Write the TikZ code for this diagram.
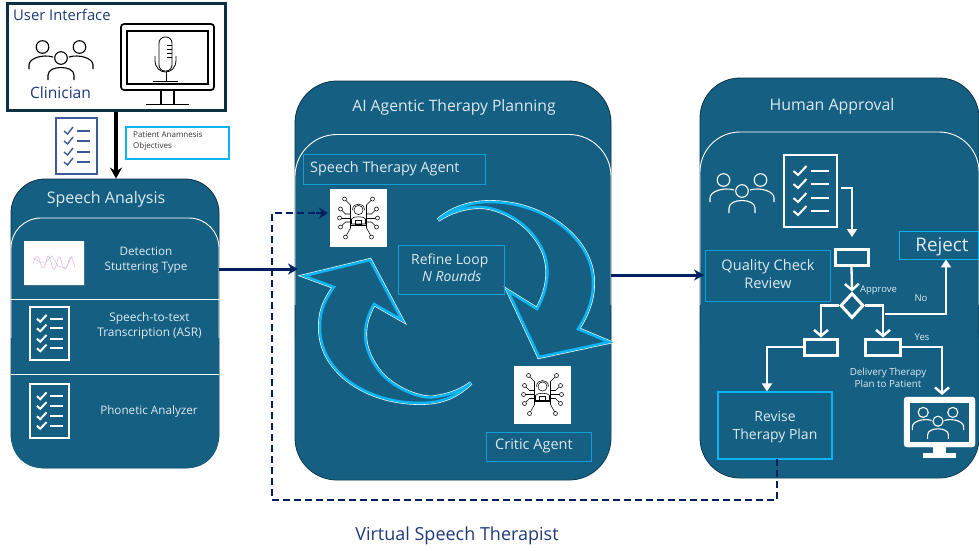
\documentclass[tikz,border=0pt]{standalone}
\usepackage{fontspec}
\setmainfont{Open Sans}
\usetikzlibrary{arrows.meta,calc,shadows,shapes.geometric}
\definecolor{panel}{HTML}{156082}
\definecolor{paneledge}{HTML}{0E2F44}
\definecolor{cyanline}{HTML}{0F9ED5}
\definecolor{brightcyan}{HTML}{0DB4F2}
\definecolor{navy}{HTML}{002060}
\definecolor{uitext}{HTML}{1F3A7A}
\definecolor{txt}{HTML}{DCE9F0}
\definecolor{blueicon}{HTML}{3A5A98}
\newcommand{\fs}[1]{\fontsize{#1}{#1}\selectfont}
\tikzset{
  panelbox/.style={draw=paneledge,line width=.8pt,fill=panel,rounded corners=#1,inner sep=0pt},
  labelbox/.style={draw=cyanline,line width=.9pt,inner sep=0pt,text=txt,align=center},
  flowrect/.style={draw=white,line width=3pt,inner sep=0pt},
  flowline/.style={draw=white,line width=2.3pt},
  tritip/.style={-{Triangle[length=8pt,width=10pt]}},
  barbtip/.style={-{Straight Barb[length=6pt,width=14pt,line width=2.4pt]}},
  navyline/.style={draw=navy,line width=3pt,-{Stealth[length=10pt,width=11pt]}},
  dashline/.style={draw=navy,line width=2.6pt,dash pattern=on 7pt off 4pt},
  plain/.style={text=txt,align=center,inner sep=0pt},
  pics/people/.style={code={
    \draw[line width=1.1pt] (-18.5,-12) circle (6.3) (18.5,-12) circle (6.3) (0,-1) circle (6.3);
    \draw[line width=1.1pt] (-32,10) -- (-32,6) .. controls (-32,-1) and (-18,-5) .. (-8,-2);
    \draw[line width=1.1pt] (32,10) -- (32,6) .. controls (32,-1) and (18,-5) .. (8,-2);
    \draw[line width=1.1pt] (-13,21) -- (-13,16) .. controls (-13,6) and (13,6) .. (13,16) -- (13,21);
  }},
  pics/checklist/.style={code={
    \draw[line width=2pt] (-26.5,-36) rectangle (26.5,36);
    \foreach \yy in {-20,-7,7,20}{
      \draw[line width=2pt] (-17,\yy) -- (-12.5,\yy+4) -- (-4,\yy-5);
      \draw[line width=2pt] (0,\yy) -- (18,\yy);
    }
  }},
  pics/robot/.style={code={
    \fill[white] (-28.5,-29) rectangle (28.5,29);
    \begin{scope}[black,line width=.55pt]
      \draw (0,-8) circle (4.6);
      \draw (-6,-8) .. controls (-6,-16) and (6,-16) .. (6,-8);
      \draw[fill=white] (-7,6) -- (-7,1) .. controls (-6,-2) and (6,-2) .. (7,1) -- (7,6) -- cycle;
      \draw (-3,2) rectangle (3,6);
      \foreach \sx in {-1,1}{
        \draw (\sx*14,-19) -- (\sx*8,-13) -- (\sx*8,10) -- (\sx*13,19);
        \draw (\sx*18,-9) -- (\sx*13,-4) -- (\sx*8,-4);
        \draw (\sx*19,0) -- (\sx*8,0);
        \draw (\sx*18,9) -- (\sx*13,4) -- (\sx*8,4);
        \foreach \px/\py in {14/-19,18/-9,19/0,18/9,13/19}
          \draw[fill=white] (\sx*\px,\py) circle (2);
      }
      \draw (-8,7) -- (8,7);
    \end{scope}
  }}
}
\begin{document}
\begin{tikzpicture}[x=1pt,y=-1pt]
\useasboundingbox (0,0) rectangle (979,550);
\fill[white] (0,0) rectangle (979,550);

% ---------- User interface
\node[draw=paneledge,line width=3pt,fill=white,minimum width=218pt,minimum height=107pt,inner sep=0pt] (ui) at (116,56.5) {};
\node[anchor=west,text=uitext,inner sep=0pt,font=\fs{14.8}] (uititle) at (13,15) {User Interface};
\pic[color=black] at (61,59) {people};
\node[text=uitext,inner sep=0pt,font=\fs{15.6}] (clin) at (60.5,93) {Clinician};
\draw[black,line width=1.7pt,rounded corners=3pt] (121,24) rectangle (214,90);
\draw[black,line width=1.7pt] (127,31) rectangle (208,84);
\draw[black,line width=1.5pt] (161,90) -- (161,104) (174,90) -- (174,104) (146,104.5) -- (189,104.5);
\draw[black,line width=.8pt,rounded corners=6pt] (159,37) rectangle (172,71);
\draw[black,line width=.8pt] (155,56) -- (155,60) .. controls (155,76) and (176,76) .. (176,60) -- (176,56);
\draw[black,line width=.8pt] (166,72) -- (166,81) (153,81) -- (178,81);
\draw[black,line width=.6pt] (167,45) -- (172,45) (167,49) -- (172,49) (167,53) -- (172,53) (167,57) -- (172,57);

\node[draw=blueicon,line width=1.6pt,fill=white,minimum width=41pt,minimum height=56pt,inner sep=0pt] (notes) at (76.5,146) {};
\foreach \yy in {131,141,152,162}{
  \draw[blueicon,line width=1.4pt] (64,\yy) -- (67.5,\yy+3) -- (73,\yy-4);
  \draw[blueicon,line width=1.4pt] (77,\yy) -- (90,\yy);
}
\node[draw=brightcyan,line width=1.2pt,fill=white,minimum width=103pt,minimum height=32pt,inner sep=0pt] (patient) at (177.5,143) {};
\node[anchor=west,align=left,inner sep=0pt,text=black!80,font=\fontsize{8}{11}\selectfont] (patienttext) at (133,141) {Patient Anamnesis\\Objectives};

% ---------- Speech analysis panel
\node[panelbox=34pt,minimum width=208pt,minimum height=289pt] (speech) at (115,323.5) {};
\fill[panel,rounded corners=30pt] (11.4,218) rectangle (218.6,468);
\fill[panel,rounded corners=34pt] (11.4,300) rectangle (218.6,467.6);
\draw[white,line width=.9pt,rounded corners=30pt] (11,338) -- (11,218) -- (219,218) -- (219,338);
\draw[white,line width=.9pt] (11,299.5) -- (219,299.5) (11,374.5) -- (219,374.5);
\node[plain,font=\fs{16}] (satitle) at (106,199.5) {Speech Analysis};

\node[fill=white,minimum width=60pt,minimum height=44pt,inner sep=0pt,drop shadow={shadow xshift=1pt,shadow yshift=-1pt,opacity=.5}] (chart) at (54,263) {};
\draw[magenta!25,line width=.7pt] (33,264) .. controls (36,254) and (38,254) .. (40,262) .. controls (42,270) and (44,270) .. (46,262) .. controls (48,254) and (49,254) .. (51,262) .. controls (53,272) and (55,272) .. (57,262) .. controls (59,254) and (60,256) .. (62,264) .. controls (64,272) and (66,270) .. (68,264) .. controls (70,254) and (72,254) .. (75,268);
\draw[cyan!50!blue!30,line width=.5pt] (33,258) -- (40,262) -- (46,262) -- (52,256) -- (58,266) -- (66,268) -- (72,256);
\node[plain,font=\fontsize{11.7}{15}\selectfont] (sa1) at (146,260.5) {Detection\\Stuttering Type};
\pic[color=white,scale=.74] at (49.5,333.5) {checklist};
\node[plain,font=\fontsize{11.9}{15}\selectfont] (sa2) at (149.5,326) {Speech-to-text\\Transcription (ASR)};
\pic[color=white,scale=.74] at (49.5,411) {checklist};
\node[plain,font=\fontsize{11.7}{15}\selectfont] (sa3) at (149,411.5) {Phonetic Analyzer};

% ---------- Agentic panel
\node[panelbox=42pt,minimum width=316pt,minimum height=399pt] (agentic) at (453,280.5) {};
\fill[panel,rounded corners=42pt] (295.4,300) rectangle (610.6,479.6);
\draw[white,line width=.9pt,rounded corners=42pt] (295,305) -- (295,134.5) -- (611,134.5) -- (611,305);
\node[plain,font=\fs{15.7}] (agtitle) at (454,107) {AI Agentic Therapy Planning};
\node[labelbox,minimum width=182pt,minimum height=30pt] (sta) at (394,169) {};
\node[plain,anchor=west,font=\fs{14.4}] (statext) at (310,169) {Speech Therapy Agent};
\pic at (358.5,218) {robot};
\node[inner sep=0pt,minimum width=57pt,minimum height=58pt] (robot1) at (358.5,218) {};

\foreach \lw/\cc in {3.8/white,2.6/brightcyan}{
\path[draw=\cc,line width=\lw pt,fill=panel,line join=miter,miter limit=12]
 (438,220) .. controls (452,208) and (470,202) .. (490,202) .. controls (545,202) and (595,240) .. (593,285) .. controls (593,300) and (587,315) .. (578,329) -- (609,342) -- (539,357) -- (508,291) -- (537,309) .. controls (548,290) and (552,265) .. (540,245) .. controls (525,218) and (495,207) .. (480,207) .. controls (465,207) and (450,212) .. (438,220) -- cycle;
\path[draw=\cc,line width=\lw pt,fill=panel,line join=miter,miter limit=12]
 (471,383) .. controls (455,398) and (440,403) .. (420,403) .. controls (365,403) and (318,370) .. (320,325) .. controls (320,310) and (325,300) .. (334,287) -- (304,276) -- (370,260) -- (402,320) -- (374,304) .. controls (362,325) and (362,345) .. (375,365) .. controls (390,390) and (425,400) .. (435,397) .. controls (450,395) and (462,390) .. (471,383) -- cycle;
}
\node[labelbox,minimum width=106pt,minimum height=49pt] (refine) at (451,269.5) {};
\node[plain,anchor=west,align=left,font=\fontsize{13.9}{17}\selectfont] (refinetext) at (411,267.5) {Refine Loop\\\hspace*{11pt}\itshape N Rounds};
\pic at (542.5,394.5) {robot};
\node[inner sep=0pt,minimum width=57pt,minimum height=58pt] (robot2) at (542.5,394.5) {};
\node[labelbox,minimum width=105pt,minimum height=29pt] (critic) at (538.5,446.5) {};
\node[plain,anchor=west,font=\fs{14.5}] (critictext) at (495,446) {Critic Agent};

% ---------- Human approval panel
\node[panelbox=40pt,minimum width=279pt,minimum height=400pt] (human) at (839.5,278) {};
\fill[panel,rounded corners=40pt] (700.4,300) rectangle (978.6,477.6);
\draw[white,line width=.9pt,rounded corners=40pt] (700,305) -- (700,132) -- (979,132) -- (979,305);
\node[plain,font=\fs{15.9}] (hatitle) at (832,106) {Human Approval};
\pic[color=white] at (742,192) {people};
\pic[color=white] at (810.5,191) {checklist};
\coordinate (listout) at (841,188);
\node[labelbox,minimum width=125pt,minimum height=51pt] (quality) at (767.5,275.5) {};
\node[plain,font=\fontsize{14.6}{18}\selectfont] (qualitytext) at (768,274) {Quality Check\\Review};
\node[flowrect,minimum width=33pt,minimum height=16pt] (r0) at (851.5,257) {};
\node[flowrect,minimum width=33pt,minimum height=16pt] (rl) at (820.5,347) {};
\node[flowrect,minimum width=35pt,minimum height=16pt] (rr) at (882.5,347) {};
\node[diamond,draw=white,line width=3pt,inner sep=0pt,minimum width=23pt,minimum height=25pt] (d0) at (852,305.5) {};
\coordinate (dS) at (885,314);
\node[labelbox,draw=brightcyan,minimum width=79pt,minimum height=28pt] (reject) at (939,245) {};
\node[plain,font=\fs{18.8}] (rejecttext) at (942,247) {Reject};
\node[labelbox,draw=brightcyan,line width=1.2pt,minimum width=114pt,minimum height=67pt] (revise) at (775,425.5) {};
\node[plain,font=\fontsize{14}{18}\selectfont] (revisetext) at (775,427) {Revise\\Therapy Plan};

\draw[flowline,tritip] (listout) -- (852,188) -- (852,237);
\draw[flowline,barbtip] (r0.south) -- (d0.north);
\draw[flowline,barbtip] (d0.west) -- (821,305.5) -- (rl.north -| 821,0);
\draw[flowline,barbtip] (d0.east) -- (883,305.5) -- (rr.north -| 883,0);
\draw[flowline,tritip] (dS) -- (946,314) -- (reject.south -| 946,0);
\draw[flowline,tritip] (rl.west) -- (767,347) -- (revise.north -| 767,0);
\coordinate (mon) at (942,395);
\draw[flowline,barbtip] (rr.east) -- (942,347) -- (mon);

\node[plain,font=\fs{9.5}] (approve) at (878.5,290) {Approve};
\node[plain,font=\fs{9.5}] (no) at (921,298.5) {No};
\node[plain,font=\fs{9.5}] (yes) at (922,337.5) {Yes};
\node[plain,font=\fontsize{9.8}{12}\selectfont] (delivery) at (888,378) {Delivery Therapy\\Plan to Patient};

\draw[white,fill=white,rounded corners=3pt] (904,397) rectangle (975,447);
\fill[panel] (910,403) rectangle (969,442);
\fill[white] (933,447) rectangle (946,457);
\fill[white] (923,453) rectangle (956,458);
\pic[color=white,scale=.8] at (938,422) {people};

% ---------- connectors
\draw[black,line width=3.4pt,-{Stealth[length=11pt,width=12pt]}] (ui.south -| 116,0) -- (speech.north -| 116,0);
\coordinate (saout) at (speech.east |- 0,269);
\coordinate (agin) at (298,269);
\coordinate (agout) at (agentic.east |- 0,275);
\coordinate (hain) at (704,275);
\coordinate (reviseout) at (777,459);
\coordinate (robotin) at (328,213);
\draw[dashline] (reviseout) -- (777,500) -- (272,500) -- (272,213) -- (316,213);
\draw[navy,line width=2.4pt,-{Stealth[length=9pt,width=11pt]}] (316,213) -- (robotin);
\draw[navyline] (saout) -- (agin);
\draw[navyline] (agout) -- (hain);

\node[text=uitext,inner sep=0pt,font=\fs{18}] (virtual) at (457,535.5) {Virtual Speech Therapist};
\end{tikzpicture}
\end{document}
